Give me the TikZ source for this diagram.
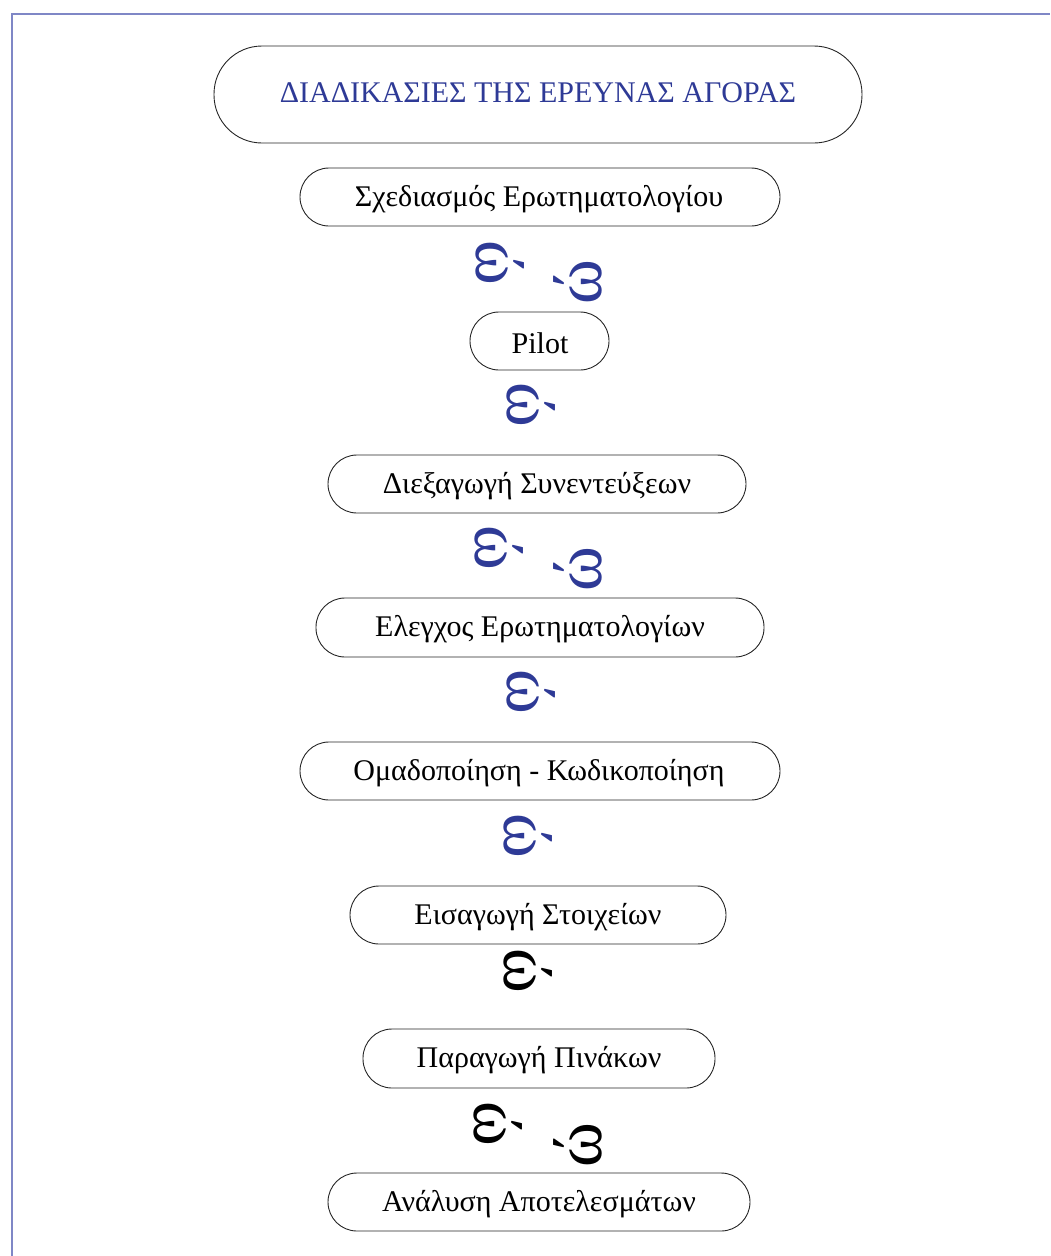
\documentclass[tikz,border=0pt]{standalone}
\usepackage{fontspec}
\setmainfont{Liberation Serif}
\definecolor{tblue}{HTML}{2E3A96}
\definecolor{frame}{HTML}{7F87C6}
\begin{document}
\begin{tikzpicture}[x=1pt,y=-1pt,
  stepbox/.style={draw=black!85,line width=0.9pt,rounded corners=29pt},
  steptext/.style={font=\fontsize{30}{32}\selectfont,inner sep=0pt,anchor=center},
  glyph/.style={font=\fontsize{68}{70}\selectfont,inner sep=0pt,anchor=center}]
\useasboundingbox (0,0) rectangle (1050,1256);
\draw[frame,line width=2pt] (12,1256) -- (12,14) -- (1050,14);
% title
\draw[black!85,line width=0.9pt,rounded corners=48pt] (214,46) rectangle (862,143);
\node[text=tblue,font=\fontsize{30}{32}\selectfont] (title) at (538,93) {ΔΙΑΔΙΚΑΣΙΕΣ ΤΗΣ ΕΡΕΥΝΑΣ ΑΓΟΡΑΣ};
% boxes
\draw[stepbox] (300,168) rectangle (780,226);
\node[steptext] (b1) at (539,199) {Σχεδιασμός Ερωτηματολογίου};
\draw[stepbox] (470,312) rectangle (609,370);
\node[steptext] (b2) at (540,343) {Pilot};
\draw[stepbox] (328,455) rectangle (746,513);
\node[steptext] (b3) at (537,486) {Διεξαγωγή Συνεντεύξεων};
\draw[stepbox] (316,598) rectangle (764,657);
\node[steptext] (b4) at (540,629) {Ελεγχος Ερωτηματολογίων};
\draw[stepbox] (300,742) rectangle (780,800);
\node[steptext] (b5) at (539,773) {Ομαδοποίηση - Κωδικοποίηση};
\draw[stepbox] (350,886) rectangle (726,944);
\node[steptext] (b6) at (538,917) {Εισαγωγή Στοιχείων};
\draw[stepbox] (363,1029) rectangle (715,1088);
\node[steptext] (b7) at (539,1060) {Παραγωγή Πινάκων};
\draw[stepbox] (328,1173) rectangle (750,1231);
\node[steptext] (b8) at (539,1204) {Ανάλυση Αποτελεσμάτων};
% glyphs
\node[glyph,text=tblue,rotate=-90] (g1a) at (500,263) {ώ};
\node[glyph,text=tblue,rotate=90] (g1b) at (578,282) {ώ};
\node[glyph,text=tblue,rotate=-90] (g2) at (531,405) {ώ};
\node[glyph,text=tblue,rotate=-90] (g3a) at (499,548) {ώ};
\node[glyph,text=tblue,rotate=90] (g3b) at (578,569) {ώ};
\node[glyph,text=tblue,rotate=-90] (g4) at (531,692) {ώ};
\node[glyph,text=tblue,rotate=-90] (g5) at (528,836) {ώ};
\node[glyph,text=black,rotate=-90] (g6) at (528,971) {ώ};
\node[glyph,text=black,rotate=-90] (g7a) at (498,1124) {ώ};
\node[glyph,text=black,rotate=90] (g7b) at (578,1145) {ώ};
\end{tikzpicture}
\end{document}
